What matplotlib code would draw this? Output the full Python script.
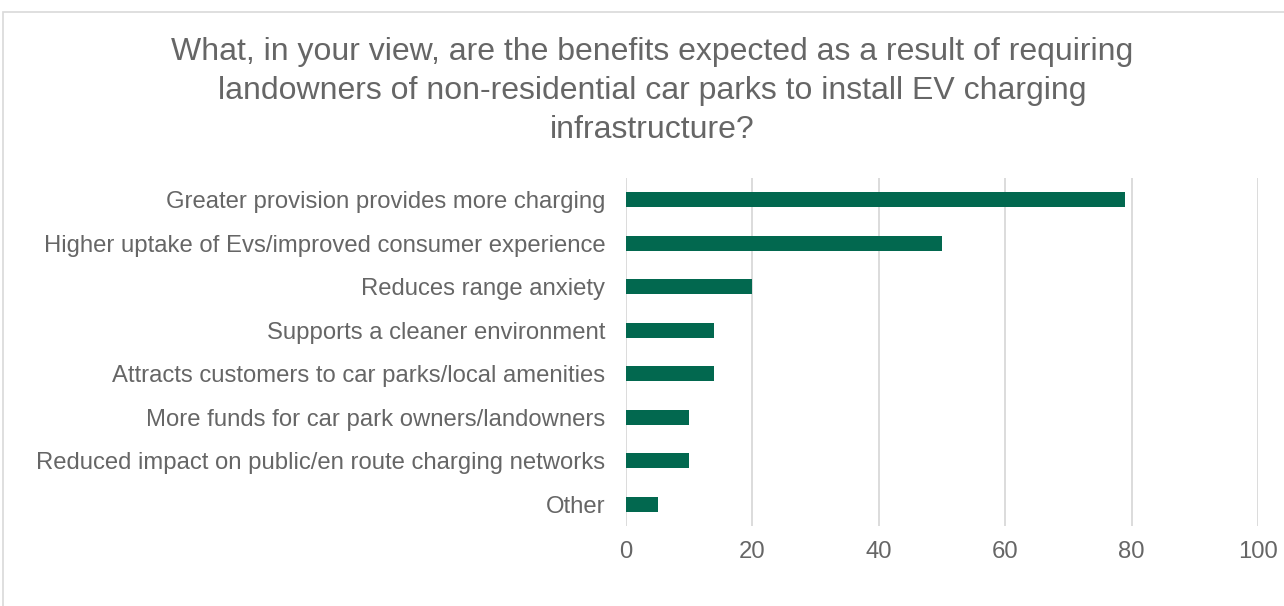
import matplotlib.pyplot as plt
from matplotlib.patches import Rectangle

plt.rcParams['font.family'] = ['Liberation Sans', 'DejaVu Sans']

title = ("What, in your view, are the benefits expected as a result of requiring\n"
         "landowners of non-residential car parks to install EV charging\n"
         "infrastructure?")
benefits = [
    "Greater provision provides more charging",
    "Higher uptake of Evs/improved consumer experience",
    "Reduces range anxiety",
    "Supports a cleaner environment",
    "Attracts customers to car parks/local amenities",
    "More funds for car park owners/landowners",
    "Reduced impact on public/en route charging networks",
    "Other",
]
responses = [79, 50, 20, 14, 14, 10, 10, 5]
x_ticks = [0, 20, 40, 60, 80, 100]

text_col = "#666666"
grid_col = "#D9D9D9"
bar_col = "#02684F"

fig = plt.figure(figsize=(12.84, 6.06), dpi=100)
ax = fig.add_axes([626 / 1284, 1 - 526 / 606, 632 / 1284, 348 / 606])

pos = list(range(len(benefits)))
ax.barh(pos, responses, height=0.35, color=bar_col, zorder=3)
ax.set_ylim(len(benefits) - 0.5, -0.5)
ax.set_xlim(0, 100)
ax.set_yticks(pos)
ax.set_yticklabels(benefits)
ax.set_xticks(x_ticks)
ax.tick_params(axis='both', length=0, labelsize=17.2, colors=text_col)
ax.tick_params(axis='y', pad=15)
ax.tick_params(axis='x', pad=11)
ax.grid(axis='x', color=grid_col, linewidth=1.3, zorder=0)
for s in ax.spines.values():
    s.set_visible(False)

fig.text(652 / 1284, 1 - 91 / 606, title, ha='center', va='center',
         fontsize=23, color=text_col, linespacing=1.38)

# light outer frame around the chart area
fig.add_artist(Rectangle((3 / 1284, -0.1), 1.2, 1 - 12 / 606 + 0.1,
                         transform=fig.transFigure, fill=False,
                         edgecolor=grid_col, linewidth=1.2))

fig.savefig("out.png", dpi=100)
